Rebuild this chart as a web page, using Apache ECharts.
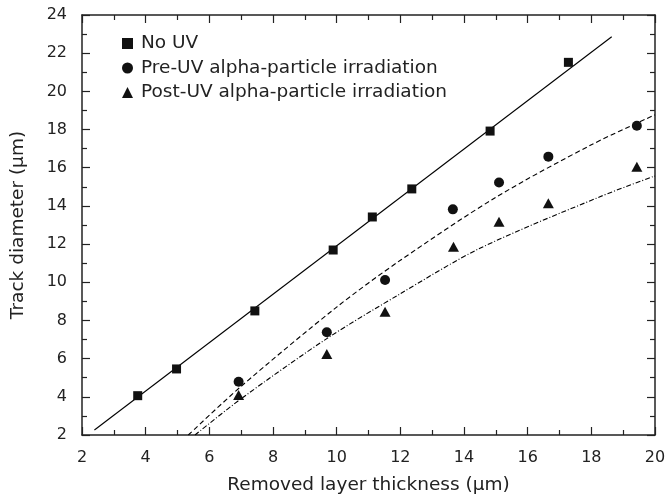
<!DOCTYPE html>
<html>
<head>
<meta charset="utf-8">
<title>Track diameter vs removed layer thickness</title>
<script src="https://cdn.jsdelivr.net/npm/echarts@6/dist/echarts.min.js"></script>
<style>
  html, body { margin: 0; padding: 0; background: #fff; }
  #chart { width: 667px; height: 502px; }
</style>
</head>
<body>
<div id="chart"></div>
<script>
// measured points
const noUvX = [3.75, 4.97, 7.43, 9.89, 11.12, 12.36, 14.82, 17.28]
const noUvY = [4.06, 5.46, 8.50, 11.69, 13.42, 14.89, 17.92, 21.52]
const preUvX = [6.92, 9.69, 11.52, 13.65, 15.10, 16.65, 19.43]
const preUvY = [4.79, 7.38, 10.12, 13.82, 15.23, 16.58, 18.20]
const postUvX = [6.92, 9.69, 11.52, 13.67, 15.10, 16.65, 19.43]
const postUvY = [4.10, 6.24, 8.46, 11.86, 13.17, 14.14, 16.05]

// fitted curves
const noUvFitX = [2.39, 18.64]
const noUvFitY = [2.26, 22.86]
const preFitX = [5.34, 7, 10, 12, 15, 18, 20]
const preFitY = [2.0, 4.55, 8.7, 11.15, 14.45, 17.2, 18.77]
const postFitX = [5.55, 7, 9.69, 12, 14.5, 18.27, 20]
const postFitY = [2.0, 3.9, 7.05, 9.4, 11.78, 14.48, 15.57]

const legendNames = ['No UV', 'Pre-UV alpha-particle irradiation', 'Post-UV alpha-particle irradiation']

const font = 'DejaVu Sans'
const ink = '#222'

function pairs (xs, ys) {
  return xs.map((x, i) => [x, ys[i]])
}

const chart = echarts.init(document.getElementById('chart'), null, { renderer: 'canvas' })

const axisBase = {
  type: 'value',
  axisLine: { show: true, onZero: false, lineStyle: { color: ink, width: 1.5 } },
  axisTick: { show: true, inside: true, length: 8, lineStyle: { color: ink, width: 1.2 } },
  minorTick: { show: true, splitNumber: 2, length: 5, lineStyle: { color: ink, width: 1.2 } },
  splitLine: { show: false }
}

const option = {
  animation: false,
  backgroundColor: '#fff',
  textStyle: { fontFamily: font, color: ink },
  grid: {
    left: 82,
    right: 12,
    top: 15,
    bottom: 67,
    containLabel: false,
    outerBoundsMode: 'none'
  },
  legend: {
    data: legendNames,
    orient: 'vertical',
    left: 117,
    top: 29,
    itemWidth: 11,
    itemHeight: 11,
    itemGap: 5.5,
    textStyle: {
      fontFamily: font,
      fontSize: 18.5,
      color: ink,
      lineHeight: 19,
      padding: [0, 0, 0, 3]
    }
  },
  xAxis: [
    Object.assign({}, axisBase, {
      position: 'bottom',
      min: 2,
      max: 20,
      interval: 2,
      name: 'Removed layer thickness (μm)',
      nameLocation: 'middle',
      nameGap: 41,
      nameTextStyle: { fontFamily: font, fontSize: 18.5, color: ink },
      axisLabel: { fontFamily: font, fontSize: 16, color: ink, margin: 15 }
    }),
    Object.assign({}, axisBase, {
      position: 'top',
      min: 2,
      max: 20,
      interval: 2,
      axisLabel: { show: false }
    })
  ],
  yAxis: [
    Object.assign({}, axisBase, {
      position: 'left',
      min: 2,
      max: 24,
      interval: 2,
      name: 'Track diameter (μm)',
      nameLocation: 'middle',
      nameGap: 54,
      nameTextStyle: { fontFamily: font, fontSize: 18.5, color: ink },
      axisLabel: { fontFamily: font, fontSize: 16, color: ink, margin: 15 }
    }),
    Object.assign({}, axisBase, {
      position: 'right',
      min: 2,
      max: 24,
      interval: 2,
      axisLabel: { show: false }
    })
  ],
  series: [
    {
      name: 'fit-no-uv',
      type: 'line',
      data: pairs(noUvFitX, noUvFitY),
      symbol: 'none',
      lineStyle: { color: '#000', width: 1.1 },
      silent: true,
      z: 1
    },
    {
      name: 'fit-pre-uv',
      type: 'line',
      data: pairs(preFitX, preFitY),
      smooth: 0.3,
      symbol: 'none',
      lineStyle: { color: '#000', width: 1.1, type: [5, 3] },
      silent: true,
      z: 1
    },
    {
      name: 'fit-post-uv',
      type: 'line',
      data: pairs(postFitX, postFitY),
      smooth: 0.3,
      symbol: 'none',
      lineStyle: { color: '#000', width: 1.1, type: [5, 2, 1, 2] },
      silent: true,
      z: 1
    },
    {
      name: legendNames[0],
      type: 'scatter',
      symbol: 'rect',
      symbolSize: 9,
      itemStyle: { color: '#111', opacity: 1 },
      data: pairs(noUvX, noUvY),
      z: 3
    },
    {
      name: legendNames[1],
      type: 'scatter',
      symbol: 'circle',
      symbolSize: 10,
      itemStyle: { color: '#111', opacity: 1 },
      data: pairs(preUvX, preUvY),
      z: 3
    },
    {
      name: legendNames[2],
      type: 'scatter',
      symbol: 'triangle',
      symbolSize: [11, 10],
      itemStyle: { color: '#111', opacity: 1 },
      data: pairs(postUvX, postUvY),
      z: 3
    }
  ]
}

chart.setOption(option)
</script>
</body>
</html>
